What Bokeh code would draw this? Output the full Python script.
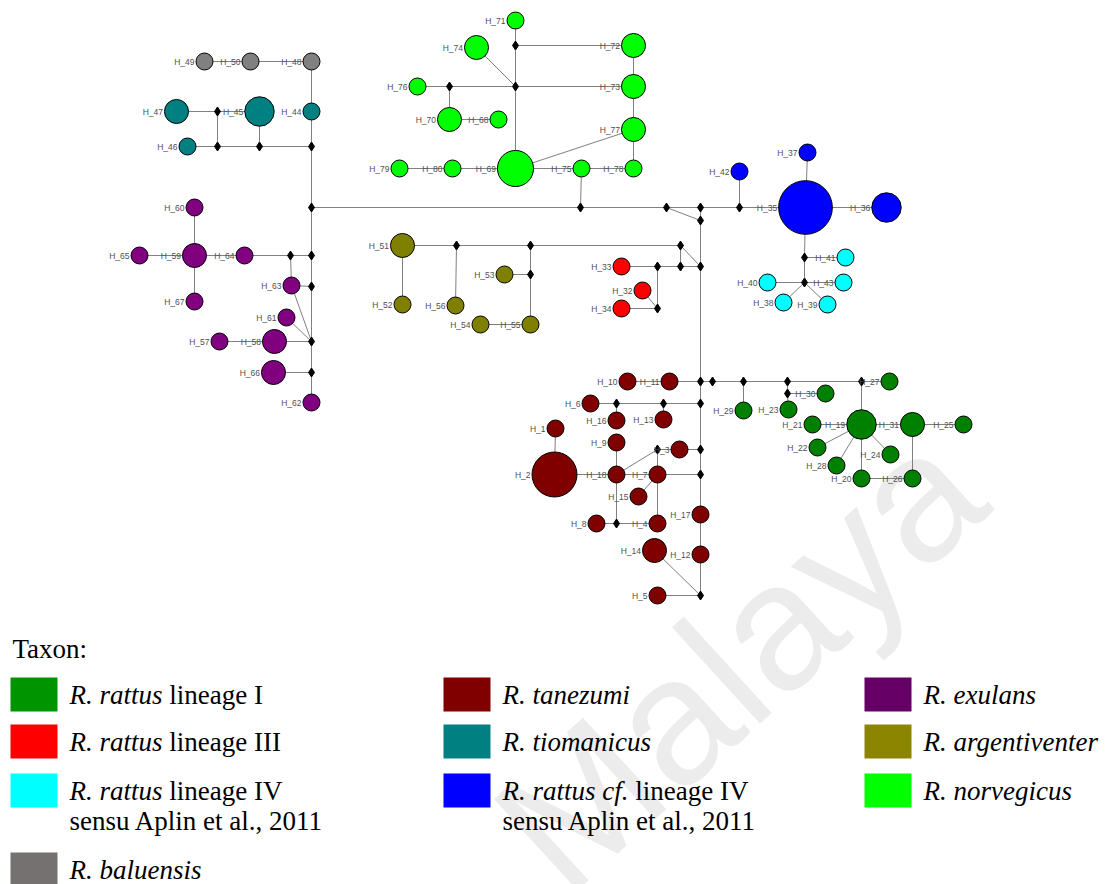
from bokeh.plotting import figure
from bokeh.models import Range1d, ColumnDataSource
from bokeh.embed import file_html
from bokeh.resources import INLINE
from bokeh.core.properties import value

# ---------------- data ----------------
taxa_italic = ["R. rattus", "R. rattus", "R. rattus", "R. baluensis", "R. tanezumi",
               "R. tiomanicus", "R. rattus cf.", "R. exulans", "R. argentiventer", "R. norvegicus"]
taxa_roman = ["lineage I", "lineage III", "lineage IV", "", "", "", "lineage IV", "", "", ""]
taxa_second = ["", "", "sensu Aplin et al., 2011", "", "", "", "sensu Aplin et al., 2011", "", "", ""]
taxa_node_color = ["#008000", "#ff0000", "#00ffff", "#808080", "#800000",
                   "#008080", "#0000ff", "#800080", "#808000", "#00ff00"]
taxa_swatch_color = ["#009400", "#ff0000", "#00ffff", "#767171", "#800000",
                     "#008080", "#0000ff", "#660066", "#8b8500", "#00ff00"]
# legend slot (column, row) for each taxon
taxa_col = [0, 0, 0, 0, 1, 1, 1, 2, 2, 2]
taxa_row = [0, 1, 2, 3, 0, 1, 2, 0, 1, 2]

hap_names = ["H_49", "H_50", "H_48", "H_47", "H_45", "H_44", "H_46",
             "H_60", "H_59", "H_65", "H_64", "H_67", "H_63", "H_61", "H_58", "H_57", "H_66", "H_62",
             "H_71", "H_72", "H_74", "H_76", "H_73", "H_70", "H_68", "H_77", "H_69", "H_79", "H_80", "H_75", "H_78",
             "H_51", "H_52", "H_56", "H_53", "H_55", "H_54",
             "H_33", "H_32", "H_34",
             "H_42", "H_35", "H_37", "H_36",
             "H_41", "H_43", "H_40", "H_38", "H_39",
             "H_10", "H_11", "H_6", "H_16", "H_13", "H_1", "H_9", "H_3", "H_2", "H_18", "H_7", "H_15", "H_8", "H_4",
             "H_17", "H_14", "H_12", "H_5",
             "H_27", "H_29", "H_30", "H_23", "H_21", "H_19", "H_31", "H_25", "H_22", "H_24", "H_28", "H_20", "H_26"]
hap_x = [204, 250, 311, 176, 259, 311, 187,
         194, 194, 139, 244, 194, 291, 286, 274, 219, 273, 311,
         515, 633, 476, 417, 633, 449, 498, 633, 515, 399, 452, 581, 633,
         402, 402, 455, 504, 530, 480,
         621, 642, 621,
         739, 805, 807, 886,
         845, 843, 767, 783, 827,
         627, 669, 590, 616, 663, 555, 616, 679, 554, 616, 657, 638, 596, 657,
         700, 654, 700, 657,
         889, 743, 825, 788, 812, 861, 912, 963, 817, 890, 836, 861, 912]
hap_y = [61, 61, 61, 111, 111, 111, 146,
         207, 255, 255, 255, 301, 285, 317, 341, 341, 372, 402,
         20, 45, 47, 86, 86, 119, 119, 129, 168, 168, 168, 168, 168,
         245, 304, 305, 274, 324, 324,
         266, 290, 308,
         171, 207, 152, 207,
         257, 282, 282, 302, 304,
         381, 381, 403, 420, 419, 428, 442, 449, 474, 474, 474, 496, 523, 523,
         514, 550, 554, 595,
         381, 410, 393, 409, 424, 424, 424, 424, 447, 454, 465, 478, 478]
hap_freq = [1, 1, 1, 2, 3, 1, 1,
            1, 2, 1, 1, 1, 1, 1, 2, 1, 2, 1,
            1, 2, 2, 1, 2, 2, 1, 2, 4.5, 1, 1, 1, 1,
            2, 1, 1, 1, 1, 1,
            1, 1, 1,
            1, 10, 1, 3,
            1, 1, 1, 1, 1,
            1, 1, 1, 1, 1, 1, 1, 1, 7, 1, 1, 1, 1, 1,
            1, 2, 1, 1,
            1, 1, 1, 1, 1, 3, 2, 1, 1, 1, 1, 1, 1]
hap_taxon = [3, 3, 3, 5, 5, 5, 5,
             7, 7, 7, 7, 7, 7, 7, 7, 7, 7, 7,
             9, 9, 9, 9, 9, 9, 9, 9, 9, 9, 9, 9, 9,
             8, 8, 8, 8, 8, 8,
             1, 1, 1,
             6, 6, 6, 6,
             2, 2, 2, 2, 2,
             4, 4, 4, 4, 4, 4, 4, 4, 4, 4, 4, 4, 4, 4,
             4, 4, 4, 4,
             0, 0, 0, 0, 0, 0, 0, 0, 0, 0, 0, 0, 0]

med_names = ["m1", "m2", "m3", "m4", "m5", "m6", "m7", "m8", "m9", "m10",
             "m11", "m12", "m13", "m14", "m15", "m16", "m17", "m18",
             "m19", "m20", "m21", "m22", "m23", "m24", "m25", "m26", "m27", "m28",
             "m29", "m30", "m31", "m32", "m33", "m34", "m35", "m36", "m37", "m38",
             "m39", "m40", "m41", "m42"]
med_x = [217, 217, 259, 311, 311, 290, 311, 311, 311, 311,
         580, 666, 700, 739, 700, 515, 515, 449,
         456, 530, 680, 530, 657, 680, 700, 657, 804, 804,
         700, 712, 616, 663, 700, 657, 700, 700, 616, 700,
         743, 787, 861, 787]
med_y = [111, 146, 146, 146, 207, 255, 255, 286, 341, 372,
         207, 207, 207, 207, 220, 45, 86, 86,
         245, 245, 245, 274, 266, 266, 266, 308, 257, 282,
         381, 381, 403, 403, 403, 449, 449, 474, 523, 595,
         381, 381, 381, 393]

edges = [("H_49", "H_50"), ("H_50", "H_48"), ("H_48", "H_44"), ("H_44", "m4"),
         ("H_47", "m1"), ("m1", "H_45"), ("m1", "m2"), ("H_46", "m2"), ("m2", "m3"), ("m3", "H_45"),
         ("m3", "m4"), ("m4", "m5"),
         ("m5", "m7"), ("m7", "m8"), ("m8", "m9"), ("m9", "m10"), ("m10", "H_62"),
         ("H_60", "H_59"), ("H_65", "H_59"), ("H_59", "H_64"), ("H_59", "H_67"), ("H_64", "m6"),
         ("m6", "m7"), ("m6", "H_63"), ("H_63", "m8"), ("H_63", "m9"), ("H_61", "m9"),
         ("H_57", "H_58"), ("H_58", "m9"), ("H_66", "m10"),
         ("m5", "m11"), ("m11", "m12"), ("m12", "m13"), ("m13", "m14"), ("m14", "H_35"),
         ("H_35", "H_36"), ("H_35", "H_37"), ("m14", "H_42"), ("H_35", "m27"),
         ("m12", "m15"), ("m13", "m15"), ("m15", "m25"),
         ("m11", "H_75"), ("H_75", "H_69"), ("H_75", "H_78"), ("H_80", "H_69"), ("H_79", "H_80"),
         ("H_69", "H_77"), ("H_69", "m17"), ("m17", "m16"), ("m16", "H_71"), ("m16", "H_72"),
         ("m17", "H_73"), ("m17", "H_74"), ("m17", "m18"), ("m18", "H_76"), ("m18", "H_70"),
         ("H_70", "H_68"), ("H_72", "H_73"), ("H_73", "H_77"), ("H_77", "H_78"),
         ("H_51", "m19"), ("m19", "m20"), ("m20", "m21"), ("m21", "m24"), ("m21", "m25"),
         ("H_51", "H_52"), ("m19", "H_56"), ("m20", "m22"), ("H_53", "m22"), ("m22", "H_55"),
         ("H_54", "H_55"),
         ("m24", "m25"), ("m23", "m24"), ("H_33", "m23"), ("m23", "m26"), ("H_34", "m26"), ("H_32", "m26"),
         ("m25", "m29"),
         ("m27", "H_41"), ("m27", "m28"), ("m28", "H_43"), ("m28", "H_40"), ("m28", "H_38"), ("m28", "H_39"),
         ("m29", "m30"), ("m30", "m39"), ("H_11", "m29"), ("H_10", "H_11"), ("m29", "m33"),
         ("H_6", "m31"), ("m31", "m32"), ("m32", "m33"), ("m31", "H_16"), ("m32", "H_13"), ("m33", "m35"),
         ("H_1", "H_2"), ("H_2", "H_18"), ("H_9", "H_18"), ("H_18", "m34"), ("m34", "H_3"), ("H_3", "m35"),
         ("m34", "H_7"), ("H_18", "H_7"), ("H_7", "m36"), ("m35", "m36"), ("H_7", "H_15"), ("H_7", "H_4"),
         ("H_18", "m37"), ("H_8", "m37"), ("m37", "H_4"), ("m36", "H_17"), ("H_17", "H_12"),
         ("H_12", "m38"), ("H_14", "m38"), ("H_5", "m38"),
         ("m39", "m40"), ("m40", "m41"), ("m41", "H_27"), ("m39", "H_29"), ("m40", "m42"),
         ("m42", "H_23"), ("m42", "H_30"), ("m41", "H_19"), ("H_21", "H_19"), ("H_19", "H_31"),
         ("H_31", "H_25"), ("H_19", "H_22"), ("H_19", "H_28"), ("H_19", "H_24"), ("H_19", "H_20"),
         ("H_20", "H_26"), ("H_31", "H_26")]

legend_title = "Taxon:"
watermark = "Malaya"

# ---------------- styling / layout ----------------
W, H = 1114, 884
UNIT_R = 8.5  # radius of a single-sample haplotype in px

# Times (Liberation Serif) italic advance widths, per 1000 em
ITALIC_W = {"R": 611, ".": 250, " ": 250, "r": 389, "a": 500, "t": 278, "u": 500, "s": 389,
            "b": 500, "l": 278, "e": 444, "n": 500, "i": 278, "z": 389, "m": 722, "o": 500,
            "c": 444, "x": 444, "g": 500, "v": 444, "f": 278}
LEG_FS = 27

p = figure(width=W, height=H, output_backend="svg", toolbar_location=None,
           x_range=Range1d(0, W), y_range=Range1d(H, 0),
           min_border=0, outline_line_color=None, background_fill_color="white",
           border_fill_color="white")
p.axis.visible = False
p.grid.visible = False

# watermark
p.text(x=[738], y=[658], text=[watermark], angle=0.74, text_font=value("Liberation Sans"),
       text_font_size="180px", text_color="#ececec", text_align="center", text_baseline="middle")

# edges
pos = {n: (x, y) for n, x, y in zip(hap_names, hap_x, hap_y)}
pos.update({n: (x, y) for n, x, y in zip(med_names, med_x, med_y)})
p.segment(x0=[pos[a][0] for a, b in edges], y0=[pos[a][1] for a, b in edges],
          x1=[pos[b][0] for a, b in edges], y1=[pos[b][1] for a, b in edges],
          line_color="#808080", line_width=1)

# median vectors
p.scatter(x=med_x, y=med_y, marker="diamond", size=9, fill_color="black", line_color="black")

# haplotypes
radii = [UNIT_R * f ** 0.5 for f in hap_freq]
src = ColumnDataSource(dict(x=hap_x, y=hap_y, size=[2 * r for r in radii],
                            color=[taxa_node_color[t] for t in hap_taxon]))
p.scatter(x="x", y="y", size="size", fill_color="color", line_color="black", line_width=1, source=src)

# labels
p.text(x=[x - r - 1.5 for x, r in zip(hap_x, radii)], y=[y + 0.5 for y in hap_y], text=hap_names,
       text_font=value("Liberation Sans"), text_font_size="8.5px", text_color="#505050",
       text_align="right", text_baseline="middle")

# legend
col_x = [10, 443, 864]
row_y = [694, 741, 790, 869]
p.text(x=[12], y=[648], text=[legend_title], text_font=value("Liberation Serif"),
       text_font_size=f"{LEG_FS}px", text_color="black", text_align="left", text_baseline="middle")
for i in range(len(taxa_italic)):
    sx = col_x[taxa_col[i]]
    ry = row_y[taxa_row[i]]
    p.quad(left=[sx], right=[sx + 47], top=[ry - 17], bottom=[ry + 17],
           fill_color=taxa_swatch_color[i], line_color=None)
    tx = sx + 59
    p.text(x=[tx], y=[ry], text=[taxa_italic[i]], text_font=value("Liberation Serif"),
           text_font_style="italic", text_font_size=f"{LEG_FS}px", text_color="black",
           text_align="left", text_baseline="middle")
    if taxa_roman[i]:
        w = (sum(ITALIC_W.get(c, 500) for c in taxa_italic[i]) + 250) * LEG_FS / 1000.0
        p.text(x=[tx + w], y=[ry], text=[taxa_roman[i]], text_font=value("Liberation Serif"),
               text_font_size=f"{LEG_FS}px", text_color="black",
               text_align="left", text_baseline="middle")
    if taxa_second[i]:
        p.text(x=[tx], y=[ry + 30], text=[taxa_second[i]], text_font=value("Liberation Serif"),
               text_font_size=f"{LEG_FS}px", text_color="black",
               text_align="left", text_baseline="middle")

open("out.html", "w").write(file_html(p, INLINE))
